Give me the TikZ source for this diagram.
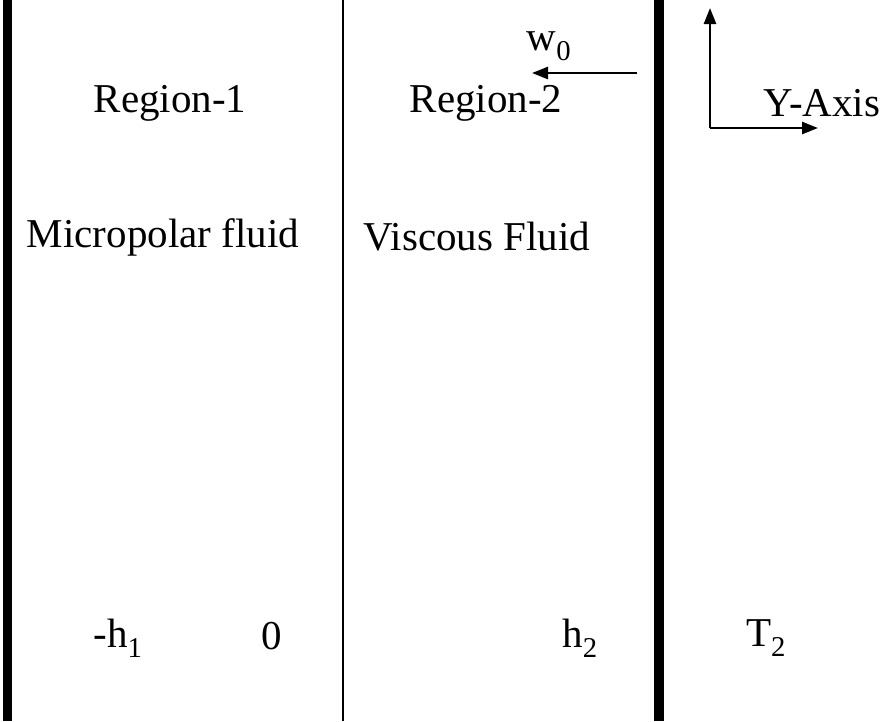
\documentclass[tikz,border=0pt]{standalone}
\usepackage{fontspec}
\setmainfont{Liberation Serif}
\usetikzlibrary{arrows.meta}

\begin{document}
\begin{tikzpicture}[x=1pt, y=-1pt, lbl/.style={font=\fontsize{41}{48}\selectfont, inner sep=0pt}, wall/.style={line width=9pt}, arr/.style={line width=2.5pt, -{Triangle[length=16pt,width=12pt]}}]

  \useasboundingbox (0,0) rectangle (888,721);

  % walls
  \coordinate (w1top) at (7,0);
  \coordinate (w1bot) at (7,721);
  \coordinate (w2top) at (343,0);
  \coordinate (w2bot) at (343,721);
  \coordinate (w3top) at (659,0);
  \coordinate (w3bot) at (659,721);
  \draw[wall] (w1top) -- (w1bot);
  \draw[line width=1.6pt] (w2top) -- (w2bot);
  \draw[wall, line width=10pt] (w3top) -- (w3bot);

  % labels
  \node[lbl] (reg1) at (170,103) {Region-1};
  \node[lbl] (reg2) at (486,103) {Region-2};
  \node[lbl] (micro) at (163,237) {Micropolar fluid};
  \node[lbl] (visc) at (477,237) {Viscous Fluid};
  \node[lbl] (mh1) at (118,638) {-h\textsubscript{1}};
  \node[lbl] (zero) at (272,636) {0};
  \node[lbl] (h2) at (580,638) {h\textsubscript{2}};
  \node[lbl] (T2) at (766,638) {T\textsubscript{2}};

  % velocity of the wall
  \coordinate (vstart) at (637,73);
  \coordinate (vend) at (532,73);
  \draw[arr] (vstart) -- (vend);
  \node[lbl] (w0) at (549,46) {w\textsubscript{0}};

  % axes
  \coordinate (orig) at (710,128);
  \coordinate (ytop) at (710,8);
  \coordinate (xend) at (818,128);
  \draw[arr] (orig) -- (ytop);
  \draw[arr] (orig) -- (xend);
  \node[lbl] (yaxis) at (822,103) {Y-Axis};
\end{tikzpicture}
\end{document}
